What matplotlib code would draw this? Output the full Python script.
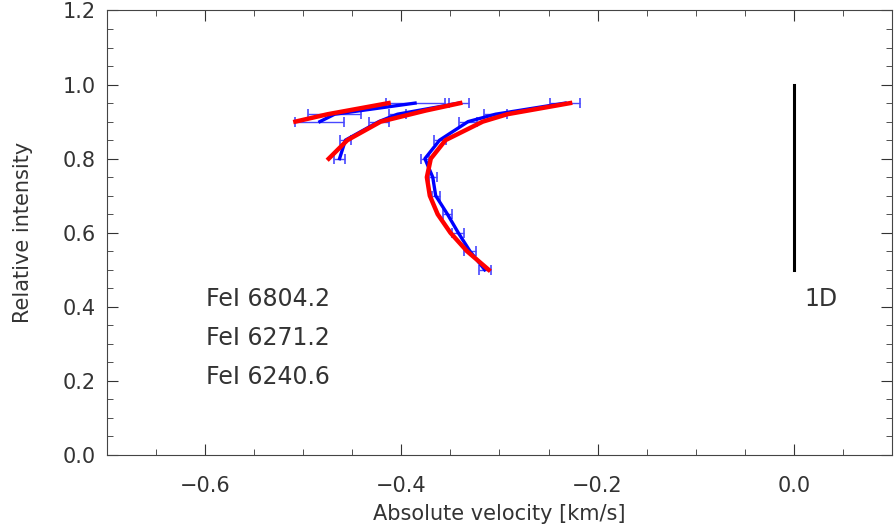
import matplotlib
matplotlib.use("Agg")
import matplotlib.pyplot as plt
from matplotlib.ticker import MultipleLocator, FuncFormatter

# bisector data (velocity in km/s vs relative intensity)
# Fe I 6804.2 (weak line, top only)
a_int = [0.90, 0.92, 0.95]
a_obs = [-0.483, -0.468, -0.386]
a_err = [0.025, 0.027, 0.030]
a_mod_int = [0.90, 0.92, 0.95]
a_mod = [-0.508, -0.475, -0.413]

# Fe I 6271.2
b_int = [0.80, 0.85, 0.90, 0.92, 0.95]
b_obs = [-0.463, -0.457, -0.423, -0.404, -0.341]
b_err = [0.006, 0.006, 0.010, 0.009, 0.010]
b_mod_int = [0.80, 0.85, 0.90, 0.93, 0.95]
b_mod = [-0.474, -0.455, -0.421, -0.375, -0.340]

# Fe I 6240.6
c_int = [0.50, 0.55, 0.60, 0.65, 0.70, 0.75, 0.80, 0.85, 0.90, 0.92, 0.95]
c_obs = [-0.315, -0.330, -0.342, -0.353, -0.365, -0.368, -0.376, -0.361, -0.332, -0.304, -0.233]
c_err = [0.006, 0.006, 0.006, 0.005, 0.004, 0.004, 0.004, 0.006, 0.009, 0.012, 0.015]
c_mod_int = [0.50, 0.55, 0.60, 0.65, 0.70, 0.75, 0.80, 0.85, 0.90, 0.92, 0.95]
c_mod = [-0.311, -0.333, -0.350, -0.363, -0.371, -0.374, -0.370, -0.355, -0.317, -0.292, -0.228]

labels = ["FeI 6804.2", "FeI 6271.2", "FeI 6240.6"]
label_y = [0.42, 0.315, 0.21]

fig = plt.figure(figsize=(8.96, 5.27), dpi=100)
ax = fig.add_axes([0.1194, 0.1366, 0.8761, 0.8435])

for v, i, e in [(a_obs, a_int, a_err), (b_obs, b_int, b_err), (c_obs, c_int, c_err)]:
    ax.errorbar(v, i, xerr=e, color="#0000ff", ecolor="#4848ff", elinewidth=1,
                capsize=3.5, capthick=1.2, lw=2.4, zorder=2)
for v, i in [(a_mod, a_mod_int), (b_mod, b_mod_int), (c_mod, c_mod_int)]:
    ax.plot(v, i, color="#ff0000", lw=3.2, zorder=3)

# 1D scale bar
ax.plot([0, 0], [0.5, 1.0], color="black", lw=2.2)
ax.text(0.028, 0.42, "1D", fontsize=17, ha="center", va="center", color="#333333")

for t, y in zip(labels, label_y):
    ax.text(-0.599, y, t, fontsize=17, ha="left", va="center", color="#333333")

fmt = FuncFormatter(lambda v, p: ("%.1f" % v).replace("-", "\u2212") if abs(v) > 1e-9 else "0.0")
ax.set_xlim(-0.7, 0.1)
ax.set_ylim(0.0, 1.2)
ax.xaxis.set_major_locator(MultipleLocator(0.2))
ax.xaxis.set_minor_locator(MultipleLocator(0.05))
ax.yaxis.set_major_locator(MultipleLocator(0.2))
ax.yaxis.set_minor_locator(MultipleLocator(0.05))
ax.xaxis.set_major_formatter(fmt)
ax.yaxis.set_major_formatter(fmt)
ax.tick_params(which="both", direction="in", top=True, right=True, labelsize=15,
               colors="#333333")
ax.tick_params(axis="x", pad=15)
ax.tick_params(axis="y", pad=8)
ax.tick_params(which="major", length=8)
ax.tick_params(which="minor", length=4)
for s in ax.spines.values():
    s.set_color("#444444")

ax.set_xlabel("Absolute velocity [km/s]", fontsize=15, color="#333333", labelpad=6)
ax.set_ylabel("Relative intensity", fontsize=15, color="#333333")
ax.yaxis.set_label_coords(-0.094, 0.5)

fig.savefig("out.png", dpi=100)
